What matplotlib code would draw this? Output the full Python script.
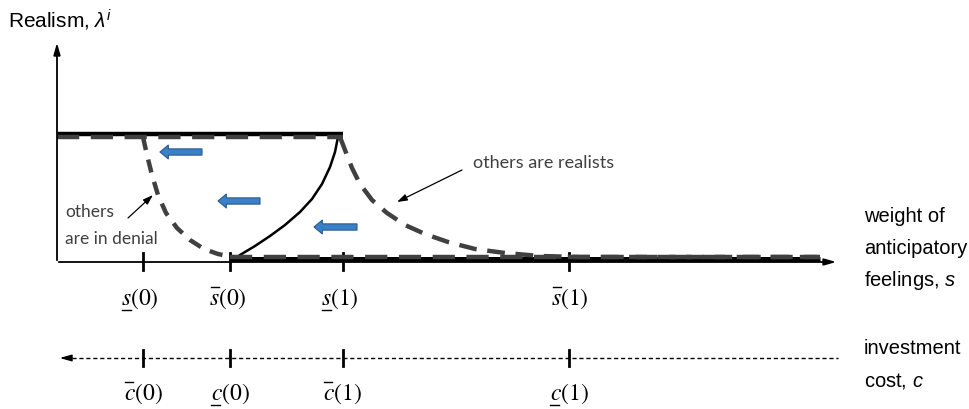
import numpy as np
import matplotlib
matplotlib.use('Agg')
import matplotlib.pyplot as plt

plt.rcParams['font.family'] = ['Liberation Sans', 'DejaVu Sans']
plt.rcParams['mathtext.fontset'] = 'custom'
plt.rcParams['mathtext.rm'] = 'Liberation Sans'
plt.rcParams['mathtext.it'] = 'Liberation Sans:italic'

# diagram laid out in pixel units (y grows downward)
x0, x_end = 57, 833          # realism axis position / end of s-axis
y_top, y_bot = 134, 259      # realism = 1 and realism = 0
y_s_axis, y_c_axis = 262, 358

tick_x = [143, 230, 343, 569]
s_label_x = [140, 228, 340, 570]
c_label_x = [143, 230, 342, 569]
# (letter, argument, underlined?)
s_labels = [('s', '0', True), ('s', '0', False), ('s', '1', True), ('s', '1', False)]
c_labels = [('c', '0', False), ('c', '0', True), ('c', '1', False), ('c', '1', True)]

# equilibrium curves
solid_x = [240, 255, 270, 285, 300, 312, 322, 330, 335, 338]
solid_y = [255, 246, 236, 225, 212, 199, 184, 167, 152, 137]
denial_x = [143, 147, 152, 158, 166, 177, 190, 204, 218, 233]
denial_y = [137, 155, 175, 195, 213, 228, 240, 249, 254, 257]
realist_x = [340, 345, 352, 360, 372, 387, 405, 425, 448, 475, 505, 540, 580, 640, 700, 760, 820]
realist_y = [137, 150, 168, 184, 200, 213, 225, 234, 242, 249, 253, 256, 257, 257, 257, 257, 257]

# blue arrows: (tail_x, tip_x, y)
blue_arrows = [(202, 160, 152), (260, 218, 201), (357, 314, 227)]

fig = plt.figure(figsize=(9.69, 4.09), dpi=100)
ax = fig.add_axes([0, 0, 1, 1])
ax.set_xlim(0, 969)
ax.set_ylim(409, 0)
ax.axis('off')

dark = '#404040'

# axes
ax.annotate('', xy=(x0, 40), xytext=(x0, y_s_axis + 1),
            arrowprops=dict(arrowstyle='-|>,head_length=0.7,head_width=0.2', lw=1.3, color='black'))
ax.annotate('', xy=(x_end + 6, y_s_axis), xytext=(x0 - 1, y_s_axis),
            arrowprops=dict(arrowstyle='-|>,head_length=0.7,head_width=0.2', lw=1.3, color='black'))
ax.plot([x0 + 8, 838], [y_c_axis, y_c_axis], color='black', lw=1.0, dashes=(3, 2))
ax.annotate('', xy=(x0, y_c_axis), xytext=(x0 + 12, y_c_axis),
            arrowprops=dict(arrowstyle='-|>,head_length=0.7,head_width=0.2', lw=1.0, color='black'))

for x in tick_x:
    ax.plot([x, x], [y_s_axis - 9, y_s_axis + 8], color='black', lw=2)
    ax.plot([x, x], [y_c_axis - 8, y_c_axis + 8], color='black', lw=2)


def bound_label(x, y, letter, arg, under):
    # letter with a bar above (upper bound) or below (lower bound), then (arg)
    t = ax.text(x, y, r'$%s\mathrm{(%s)}$' % (letter, arg), fontsize=17,
                ha='center', va='baseline', math_fontfamily='stix')
    fig.canvas.draw()
    bb = t.get_window_extent().transformed(ax.transData.inverted())
    left = bb.x0
    if under:
        ax.plot([left + 0.5, left + 9.5], [y + 4.5, y + 4.5], color='black', lw=1.0)
    else:
        ax.plot([left + 1.5, left + 9.5], [y - 18, y - 18], color='black', lw=1.0)


for x, (l, a, u) in zip(s_label_x, s_labels):
    bound_label(x, 305, l, a, u)
for x, (l, a, u) in zip(c_label_x, c_labels):
    bound_label(x, 400, l, a, u)

# thick solid equilibria
ax.plot([x0, 343], [y_top, y_top], color='black', lw=3.2, solid_capstyle='butt')
ax.plot([230, 820], [y_bot, y_bot], color='black', lw=3.6, solid_capstyle='butt')
ax.plot(solid_x, solid_y, color='black', lw=1.8)

# dashed equilibria
ax.plot([x0, 343], [137, 137], color=dark, lw=3.2, dashes=(5, 2.6))
ax.plot([230, 820], [257, 257], color=dark, lw=3.2, dashes=(5, 2.6))
ax.plot(denial_x, denial_y, color=dark, lw=3.2, dashes=(3, 2.2))
ax.plot(realist_x, realist_y, color=dark, lw=3.2, dashes=(4, 2.4))

# blue arrows
for tail, tip, y in blue_arrows:
    ax.annotate('', xy=(tip, y), xytext=(tail, y),
                arrowprops=dict(arrowstyle='simple,head_length=0.6,head_width=1.0,tail_width=0.45',
                                fc='#3A80C6', ec='#2A5B8C', lw=0.8, shrinkA=0, shrinkB=0))

# annotations
ax.text(473, 163, 'others are realists', fontsize=13, color=dark, va='center', family='Lato')
ax.annotate('', xy=(397, 202), xytext=(462, 170),
            arrowprops=dict(arrowstyle='-|>,head_length=0.6,head_width=0.2', lw=0.9, color='black',
                            shrinkA=0, shrinkB=0))
ax.text(65, 212, 'others', fontsize=12.5, color=dark, va='center', family='Lato')
ax.text(65, 239, 'are in denial', fontsize=12.5, color=dark, va='center', family='Lato')
ax.annotate('', xy=(153, 195), xytext=(128, 218),
            arrowprops=dict(arrowstyle='-|>,head_length=0.6,head_width=0.2', lw=0.9, color='black',
                            shrinkA=0, shrinkB=0))

# axis titles
ax.text(8, 20, r'Realism, $\lambda^i$', fontsize=15, va='center')
fs = 14.5
ax.text(864, 216, 'weight of', fontsize=fs, va='center')
ax.text(864, 248, 'anticipatory', fontsize=fs, va='center')
ax.text(864, 281, r'feelings, $s$', fontsize=fs, va='center')
ax.text(864, 348, 'investment', fontsize=fs, va='center')
ax.text(864, 381, r'cost, $c$', fontsize=fs, va='center')

fig.savefig('out.png', dpi=100)
